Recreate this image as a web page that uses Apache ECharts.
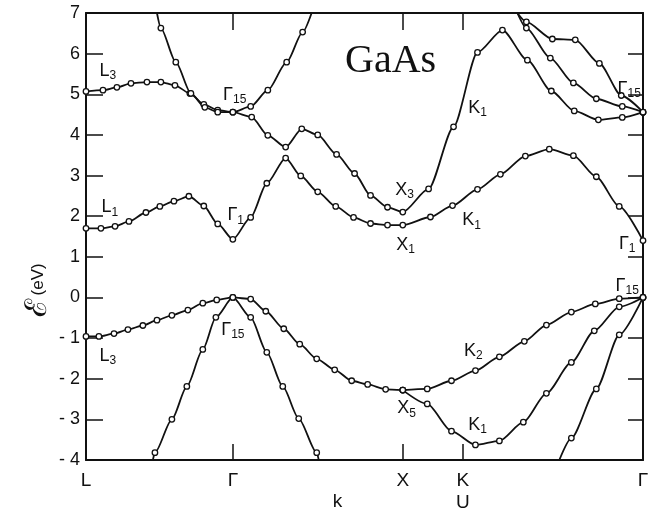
<!DOCTYPE html>
<html>

<head>
    <meta charset="utf-8" />
    <title>GaAs</title>
    <script src="https://cdn.jsdelivr.net/npm/echarts@6.0.0/dist/echarts.min.js"></script>
    <style>
        html, body { margin: 0; padding: 0; background: #fff; }
        #main { width: 648px; height: 508px; }
    </style>
</head>

<body>
    <div id="main"></div>
    <script type="text/javascript">
        // symmetry points along the path L - Γ - X - U,K - Γ
        var kPoints = [0, 0.866, 1.866, 2.22, 3.281];
        var kNames = ['L', 'Γ', 'X', 'K\nU', 'Γ'];
        var kTicks = [0.866, 1.866, 2.22];
        var eMin = -4, eMax = 7;

        // valence bands [k, E(eV)]
        var vbLight = [[0.394, -4.0], [0.406, -3.82], [0.506, -3.0], [0.594, -2.19], [0.688, -1.28], [0.765, -0.49], [0.865, 0],
            [0.97, -0.49], [1.065, -1.35], [1.159, -2.19], [1.253, -2.98], [1.359, -3.82], [1.371, -4.0]];
        var vbHeavy = [[0, -0.96], [0.076, -0.96], [0.165, -0.89], [0.247, -0.79], [0.335, -0.69], [0.418, -0.56], [0.506, -0.44],
            [0.6, -0.31], [0.688, -0.14], [0.77, -0.06], [0.865, 0], [0.97, -0.04], [1.059, -0.34], [1.165, -0.77], [1.259, -1.15],
            [1.359, -1.51], [1.465, -1.78], [1.565, -2.05], [1.659, -2.14], [1.765, -2.26], [1.866, -2.28]];
        var vbK2 = [[1.866, -2.28], [2.01, -2.25], [2.153, -2.05], [2.294, -1.8], [2.435, -1.46], [2.582, -1.08], [2.712, -0.68],
            [2.859, -0.36], [3.0, -0.16], [3.141, -0.03], [3.281, 0]];
        var vbK1 = [[1.866, -2.28], [2.01, -2.62], [2.153, -3.29], [2.294, -3.63], [2.435, -3.53], [2.576, -3.07], [2.712, -2.36],
            [2.859, -1.6], [2.994, -0.82], [3.141, -0.23], [3.281, 0]];
        var vbSteep = [[2.788, -4.0], [2.859, -3.46], [3.006, -2.25], [3.141, -0.92], [3.281, 0]];

        // conduction bands
        var cbLow = [[0, 1.7], [0.088, 1.7], [0.171, 1.75], [0.253, 1.87], [0.353, 2.09], [0.435, 2.24], [0.518, 2.37], [0.606, 2.49],
            [0.694, 2.25], [0.776, 1.81], [0.865, 1.43], [0.97, 1.97], [1.065, 2.81], [1.176, 3.43], [1.265, 2.99], [1.365, 2.6],
            [1.471, 2.24], [1.576, 1.97], [1.676, 1.82], [1.776, 1.78], [1.866, 1.78], [2.029, 1.98], [2.159, 2.26], [2.306, 2.66],
            [2.441, 3.03], [2.588, 3.48], [2.729, 3.65], [2.871, 3.49], [3.006, 2.97], [3.141, 2.24], [3.281, 1.4]];
        var cbMid = [[0, 5.07], [0.1, 5.1], [0.182, 5.17], [0.265, 5.27], [0.359, 5.3], [0.441, 5.3], [0.524, 5.22], [0.612, 5.02],
            [0.694, 4.75], [0.776, 4.61], [0.865, 4.56], [0.976, 4.44], [1.071, 3.99], [1.176, 3.7], [1.271, 4.15], [1.365, 4.0],
            [1.476, 3.52], [1.582, 3.05], [1.676, 2.51], [1.776, 2.22], [1.866, 2.1], [2.018, 2.67], [2.165, 4.2], [2.306, 6.03],
            [2.453, 6.58], [2.6, 5.84], [2.741, 5.08], [2.876, 4.59], [3.018, 4.37], [3.159, 4.43], [3.281, 4.56]];
        var cbSteep = [[0.418, 7.0], [0.441, 6.63], [0.529, 5.79], [0.618, 5.02], [0.7, 4.68], [0.776, 4.56], [0.865, 4.56],
            [0.97, 4.7], [1.071, 5.1], [1.182, 5.79], [1.276, 6.53], [1.329, 7.0]];
        var cbTopA = [[2.541, 7.0], [2.594, 6.78], [2.747, 6.36], [2.882, 6.34], [3.024, 5.76], [3.153, 4.97], [3.281, 4.56]];
        var cbTopB = [[2.541, 7.0], [2.594, 6.63], [2.735, 5.89], [2.871, 5.28], [3.006, 4.89], [3.159, 4.7], [3.281, 4.56]];

        var bands = [vbLight, vbHeavy, vbK2, vbK1, vbSteep, cbLow, cbMid, cbSteep, cbTopA, cbTopB];

        // state labels [k, E, letter, subscript]
        var stateLabels = [
            [0.129, 5.57, 'L', '3'], [0.876, 4.98, 'Γ', '15'], [0.141, 2.22, 'L', '1'], [0.882, 2.02, 'Γ', '1'],
            [1.876, 2.64, 'X', '3'], [1.882, 1.29, 'X', '1'], [2.306, 4.66, 'K', '1'], [2.271, 1.9, 'K', '1'],
            [3.188, 1.32, 'Γ', '1'], [3.2, 5.13, 'Γ', '15'], [0.129, -1.43, 'L', '3'], [0.865, -0.79, 'Γ', '15'],
            [2.282, -1.31, 'K', '2'], [1.888, -2.73, 'X', '5'], [2.306, -3.14, 'K', '1'], [3.188, 0.29, 'Γ', '15']
        ];

        var font = 'Liberation Sans';
        var ink = '#111';
        var myChart = echarts.init(document.getElementById('main'));

        function kName(v) {
            for (var i = 0; i < kPoints.length; i++) {
                if (Math.abs(kPoints[i] - v) < 1e-6) return kNames[i];
            }
            return '';
        }

        var series = bands.map(function (b) {
            return {
                type: 'line',
                data: b,
                smooth: 0.25,
                smoothMonotone: 'x',
                symbol: 'circle',
                symbolSize: function (v) { return (v[1] <= eMin || v[1] >= eMax) ? 0 : 5.5; },
                lineStyle: { color: ink, width: 1.8 },
                itemStyle: { color: '#fff', borderColor: ink, borderWidth: 1.3 },
                emphasis: { disabled: true },
                z: 2
            };
        });

        series.push({
            type: 'scatter',
            data: stateLabels,
            symbolSize: 0,
            silent: true,
            z: 5,
            itemStyle: { opacity: 1 },
            label: {
                show: true,
                position: 'inside',
                color: ink,
                opacity: 1,
                textBorderWidth: 0,
                formatter: function (p) { return '{m|' + p.value[2] + '}{s|' + p.value[3] + '}'; },
                rich: {
                    m: { fontFamily: font, fontSize: 18, color: ink, textBorderWidth: 0 },
                    s: { fontFamily: font, fontSize: 12, color: ink, textBorderWidth: 0, padding: [10, 0, 0, 0] }
                }
            }
        });

        var option = {
            animation: false,
            title: {
                text: 'GaAs',
                left: 345,
                top: 41,
                padding: 0,
                textStyle: { fontFamily: 'Liberation Serif', fontSize: 40, fontWeight: 'normal', color: ink }
            },
            grid: { left: 86, right: 5, top: 13, bottom: 48, outerBoundsMode: 'none', containLabel: false },
            xAxis: [{
                type: 'value',
                min: 0,
                max: kPoints[kPoints.length - 1],
                position: 'bottom',
                splitLine: { show: false },
                axisLine: { onZero: false, lineStyle: { color: ink, width: 2 } },
                axisTick: { inside: true, length: 16, customValues: kTicks, lineStyle: { color: ink, width: 1.5 } },
                axisLabel: {
                    customValues: kPoints,
                    formatter: kName,
                    fontFamily: font, fontSize: 19, color: ink, margin: 10, lineHeight: 22
                },
                name: 'k',
                nameLocation: 'middle',
                nameGap: 32,
                nameMoveOverlap: false,
                nameTextStyle: { fontFamily: font, fontSize: 19, color: ink, padding: [0, 54, 0, 0] }
            }, {
                type: 'value',
                min: 0,
                max: kPoints[kPoints.length - 1],
                position: 'top',
                splitLine: { show: false },
                axisLine: { onZero: false, lineStyle: { color: ink, width: 2 } },
                axisTick: { inside: true, length: 17, customValues: kTicks, lineStyle: { color: ink, width: 1.5 } },
                axisLabel: { show: false }
            }],
            yAxis: [{
                type: 'value',
                min: eMin,
                max: eMax,
                interval: 1,
                position: 'left',
                splitLine: { show: false },
                axisLine: { show: true, onZero: false, lineStyle: { color: ink, width: 2 } },
                axisTick: { show: true, inside: true, length: 17, lineStyle: { color: ink, width: 1.5 } },
                axisLabel: {
                    fontFamily: font, fontSize: 18, color: ink, margin: 6,
                    formatter: function (v) { return v < 0 ? '- ' + (-v) : String(v); }
                }
            }, {
                type: 'value',
                min: eMin,
                max: eMax,
                interval: 1,
                position: 'right',
                splitLine: { show: false },
                axisLine: { show: true, onZero: false, lineStyle: { color: ink, width: 2 } },
                axisTick: { show: true, inside: true, length: 15, lineStyle: { color: ink, width: 1.5 } },
                axisLabel: { show: false }
            }],
            graphic: [{
                type: 'text',
                x: 38,
                y: 290,
                rotation: Math.PI / 2,
                style: {
                    text: '{a|ℰ} {b|(eV)}',
                    align: 'center',
                    verticalAlign: 'middle',
                    fill: ink,
                    rich: {
                        a: { fontFamily: 'DejaVu Serif', fontSize: 30, fill: ink },
                        b: { fontFamily: font, fontSize: 17, fill: ink }
                    }
                }
            }],
            series: series
        };

        myChart.setOption(option);
    </script>
</body>

</html>
